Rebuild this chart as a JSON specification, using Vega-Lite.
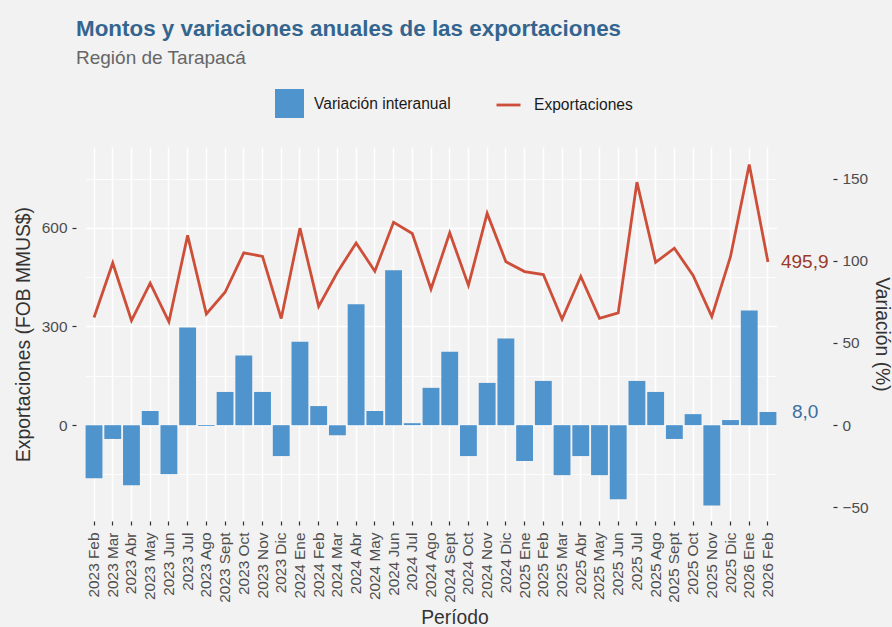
{
  "$schema": "https://vega.github.io/schema/vega-lite/v6.json",
  "width": 757,
  "height": 374,
  "autosize": {"type": "none"},
  "padding": {"left": 76, "top": 147, "right": 59, "bottom": 106},
  "background": "#f2f2f2",
  "title": {
    "text": "Montos y variaciones anuales de las exportaciones",
    "subtitle": "Región de Tarapacá",
    "anchor": "start",
    "frame": "group",
    "font": "Liberation Sans",
    "fontSize": 22.4,
    "fontWeight": "bold",
    "color": "#35658f",
    "subtitleFont": "Liberation Sans",
    "subtitleFontSize": 19,
    "subtitleColor": "#666666",
    "subtitlePadding": 9,
    "offset": 21
  },
  "data": {
    "values": [
      {"periodo": "2023 Feb", "exportaciones": 327, "variacion": -32.3},
      {"periodo": "2023 Mar", "exportaciones": 493, "variacion": -8.4},
      {"periodo": "2023 Abr", "exportaciones": 318, "variacion": -36.5},
      {"periodo": "2023 May", "exportaciones": 432, "variacion": 8.6},
      {"periodo": "2023 Jun", "exportaciones": 314, "variacion": -29.8},
      {"periodo": "2023 Jul", "exportaciones": 577, "variacion": 59.4},
      {"periodo": "2023 Ago", "exportaciones": 338, "variacion": -0.5},
      {"periodo": "2023 Sept", "exportaciones": 404, "variacion": 20.2},
      {"periodo": "2023 Oct", "exportaciones": 524, "variacion": 42.3},
      {"periodo": "2023 Nov", "exportaciones": 513, "variacion": 20.2},
      {"periodo": "2023 Dic", "exportaciones": 324, "variacion": -18.8},
      {"periodo": "2024 Ene", "exportaciones": 599, "variacion": 50.8},
      {"periodo": "2024 Feb", "exportaciones": 361, "variacion": 11.6},
      {"periodo": "2024 Mar", "exportaciones": 465, "variacion": -6.1},
      {"periodo": "2024 Abr", "exportaciones": 554, "variacion": 73.5},
      {"periodo": "2024 May", "exportaciones": 468, "variacion": 8.6},
      {"periodo": "2024 Jun", "exportaciones": 617, "variacion": 94.3},
      {"periodo": "2024 Jul", "exportaciones": 583, "variacion": 1.2},
      {"periodo": "2024 Ago", "exportaciones": 414, "variacion": 22.7},
      {"periodo": "2024 Sept", "exportaciones": 585, "variacion": 44.7},
      {"periodo": "2024 Oct", "exportaciones": 425, "variacion": -18.8},
      {"periodo": "2024 Nov", "exportaciones": 644, "variacion": 25.7},
      {"periodo": "2024 Dic", "exportaciones": 497, "variacion": 52.7},
      {"periodo": "2025 Ene", "exportaciones": 467, "variacion": -21.8},
      {"periodo": "2025 Feb", "exportaciones": 458, "variacion": 26.9},
      {"periodo": "2025 Mar", "exportaciones": 322, "variacion": -30.4},
      {"periodo": "2025 Abr", "exportaciones": 452, "variacion": -18.8},
      {"periodo": "2025 May", "exportaciones": 325, "variacion": -30.4},
      {"periodo": "2025 Jun", "exportaciones": 341, "variacion": -45.1},
      {"periodo": "2025 Jul", "exportaciones": 739, "variacion": 26.9},
      {"periodo": "2025 Ago", "exportaciones": 495, "variacion": 20.2},
      {"periodo": "2025 Sept", "exportaciones": 538, "variacion": -8.4},
      {"periodo": "2025 Oct", "exportaciones": 455, "variacion": 6.7},
      {"periodo": "2025 Nov", "exportaciones": 330, "variacion": -48.8},
      {"periodo": "2025 Dic", "exportaciones": 513, "variacion": 3.1},
      {"periodo": "2026 Ene", "exportaciones": 793, "variacion": 69.8},
      {"periodo": "2026 Feb", "exportaciones": 495.9, "variacion": 8.0}
    ]
  },
  "encoding": {
    "x": {
      "field": "periodo",
      "type": "ordinal",
      "sort": null,
      "scale": {"paddingInner": 0.1, "paddingOuter": 0, "range": [9.6, 700.4]},
      "axis": {
        "title": "Período",
        "titleX": 378.5,
        "labelAngle": -90,
        "labelAlign": "right",
        "labelBaseline": "middle",
        "labelPadding": 7,
        "bandPosition": 0.5,
        "grid": true,
        "gridColor": "white",
        "gridWidth": 1.5,
        "titlePadding": 6
      }
    }
  },
  "layer": [
    {
      "encoding": {
        "y": {
          "field": "variacion",
          "type": "quantitative",
          "scale": {"domain": [-58.3, 169.2], "nice": false, "zero": false},
          "axis": {
            "orient": "right",
            "title": "Variación (%)",
            "values": [-50, 0, 50, 100, 150],
            "grid": false,
            "labelPadding": 5,
            "titlePadding": 3
          }
        }
      },
      "layer": [
        {
          "mark": {"type": "bar", "color": "#4f94cd"},
          "encoding": {
            "fill": {
              "datum": "Variación interanual",
              "type": "nominal",
              "scale": {"range": ["#4f94cd"]},
              "legend": {
                "orient": "none",
                "legendX": 199,
                "legendY": -58,
                "title": null,
                "symbolType": "square",
                "symbolSize": 841,
                "symbolStrokeWidth": 0,
                "labelFontSize": 15.6,
                "labelColor": "#1a1a1a",
                "labelOffset": 10
              }
            }
          }
        },
        {
          "transform": [{"filter": "datum.periodo === '2026 Feb'"}],
          "mark": {"type": "text", "align": "left", "baseline": "middle", "dx": 24, "fontSize": 19, "color": "#3b6fa0"},
          "encoding": {"text": {"field": "variacion", "type": "quantitative", "format": ".1f"}}
        }
      ]
    },
    {
      "encoding": {
        "y": {
          "field": "exportaciones",
          "type": "quantitative",
          "scale": {"domain": [-292, 846], "nice": false, "zero": false},
          "axis": {
            "orient": "left",
            "title": "Exportaciones (FOB MMUS$)",
            "values": [-150, 0, 150, 300, 450, 600, 750],
            "labelExpr": "datum.value % 300 === 0 ? datum.label : ''",
            "tickOpacity": {"condition": {"test": "datum.value % 300 === 0", "value": 1}, "value": 0},
            "grid": true,
            "gridColor": "white",
            "gridWidth": {"condition": {"test": "datum.value % 300 === 0", "value": 1.5}, "value": 0.8},
            "labelPadding": 5,
            "titlePadding": 8
          }
        }
      },
      "layer": [
        {
          "mark": {"type": "line", "strokeWidth": 2.8, "color": "#cd4f39"},
          "encoding": {
            "stroke": {
              "datum": "Exportaciones",
              "type": "nominal",
              "scale": {"range": ["#cd4f39"]},
              "legend": {
                "orient": "none",
                "legendX": 419,
                "legendY": -55.5,
                "title": null,
                "symbolSize": 576,
                "symbolStrokeWidth": 2.8,
                "labelFontSize": 15.6,
                "labelColor": "#1a1a1a",
                "labelOffset": 12
              }
            }
          }
        },
        {
          "transform": [{"filter": "datum.periodo === '2026 Feb'"}],
          "mark": {"type": "text", "align": "left", "baseline": "middle", "dx": 13, "fontSize": 19, "color": "#9a3a2a"},
          "encoding": {"text": {"field": "exportaciones", "type": "quantitative", "format": ".1f"}}
        }
      ]
    }
  ],
  "resolve": {"scale": {"y": "independent", "fill": "independent", "stroke": "independent"}},
  "config": {
    "font": "Liberation Sans",
    "view": {"stroke": null},
    "locale": {"number": {"decimal": ",", "thousands": ".", "grouping": [3], "currency": ["$", ""]}},
    "axis": {
      "domain": false,
      "tickColor": "#333333",
      "tickWidth": 1.2,
      "tickSize": 4,
      "labelColor": "#4d4d4d",
      "labelFontSize": 15.4,
      "labelFont": "Liberation Sans",
      "titleColor": "#333333",
      "titleFont": "Liberation Sans",
      "titleFontSize": 19.3,
      "titleFontWeight": "normal"
    },
    "legend": {"labelFont": "Liberation Sans"}
  }
}
